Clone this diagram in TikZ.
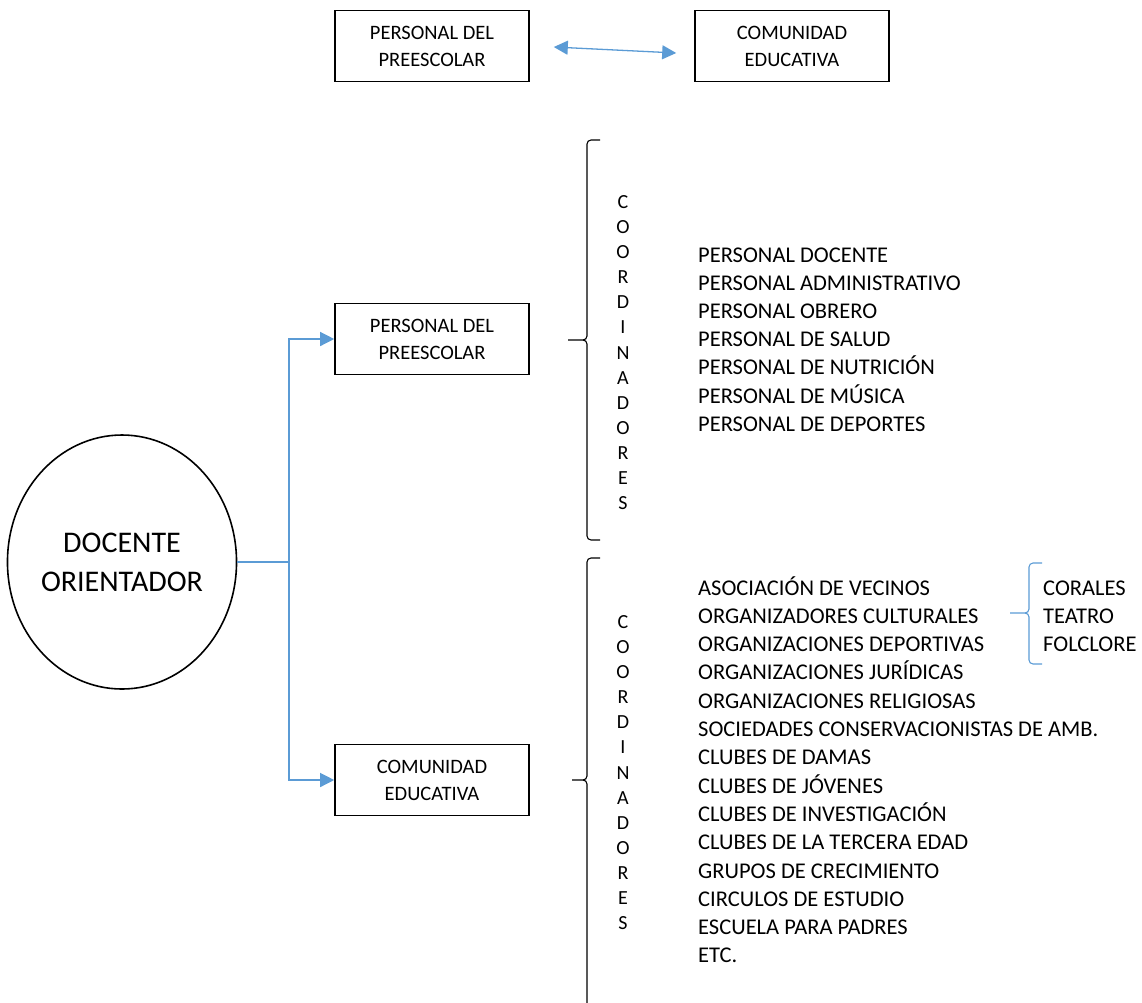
\documentclass[tikz,border=0pt]{standalone}
\usepackage{fontspec}
\setmainfont{Carlito}
\usetikzlibrary{arrows.meta,shapes.geometric,calc}
\definecolor{connc}{RGB}{91,155,213}
\begin{document}
\begin{tikzpicture}[x=1pt,y=-1pt,
  box/.style={draw,line width=1.6pt,minimum width=194pt,minimum height=71pt,align=center,inner sep=0pt,font=\fontsize{20.5}{27}\selectfont},
  conn/.style={draw=connc,line width=1.3pt},
  tipc/.style={-{Triangle[length=14pt,width=14pt]}},
  brk/.style={draw,line width=1.1pt},
  item/.style={anchor=base west,inner sep=0pt,font=\fontsize{22.5}{27}\selectfont},
  vlet/.style={anchor=center,inner sep=0pt,font=\fontsize{20}{24}\selectfont}]
\useasboundingbox (0,0) rectangle (1142,1002);

% top boxes
\node[box] (tp) at (432,46) {PERSONAL DEL\\PREESCOLAR};
\node[box] (tc) at (792,46) {COMUNIDAD\\EDUCATIVA};
\draw[conn,{Triangle[length=14pt,width=14pt]}-{Triangle[length=14pt,width=14pt]}]
  ($(tp.east)+(24,1)$) -- ($(tc.west)+(-18,7)$);

% main ellipse
\node[draw,ellipse,line width=1.6pt,minimum width=226pt,minimum height=254pt,inner sep=0pt,align=center,
  font=\fontsize{30}{39}\selectfont] (doc) at (122,562) {DOCENTE\\ORIENTADOR};

% middle boxes
\node[box] (mp) at (432,339) {PERSONAL DEL\\PREESCOLAR};
\node[box] (mc) at (432,780) {COMUNIDAD\\EDUCATIVA};

% connectors
\coordinate (j) at (289,562);
\draw[conn] (doc.east) -- (j);
\draw[conn,tipc] (j) |- (mp.west);
\draw[conn,tipc] (j) |- (mc.west);

% bracket 1
\draw[brk] (600,140) -- (591,140) to[out=180,in=90] (587,144) -- (587,336)
  to[out=-90,in=0] (583,340) -- (568,340);
\draw[brk] (583,340) to[out=0,in=90] (587,344) -- (587,536) to[out=-90,in=180] (591,540) -- (600,540);

% bracket 2
\draw[brk] (600,558) -- (591,558) to[out=180,in=90] (587,562) -- (587,776)
  to[out=-90,in=0] (583,780) -- (572,780);
\draw[brk] (583,780) to[out=0,in=90] (587,784) -- (587,1010);

% COORDINADORES vertical
\foreach \l [count=\i] in {C,O,O,R,D,I,N,A,D,O,R,E,S}{
  \node[vlet] (ca\i) at (623,{202+25.1*(\i-1)}) {\l};
  \node[vlet] (cb\i) at (623,{622+25.1*(\i-1)}) {\l};
}

% personal list
\foreach \t [count=\i] in {PERSONAL DOCENTE,PERSONAL ADMINISTRATIVO,PERSONAL OBRERO,PERSONAL DE SALUD,PERSONAL DE NUTRICIÓN,PERSONAL DE MÚSICA,PERSONAL DE DEPORTES}{
  \node[item] (pl\i) at (698,{262+28.2*(\i-1)}) {\t};
}

% community list
\foreach \t [count=\i] in {ASOCIACIÓN DE VECINOS,ORGANIZADORES CULTURALES,ORGANIZACIONES DEPORTIVAS,ORGANIZACIONES JURÍDICAS,ORGANIZACIONES RELIGIOSAS,SOCIEDADES CONSERVACIONISTAS DE AMB.,CLUBES DE DAMAS,CLUBES DE JÓVENES,CLUBES DE INVESTIGACIÓN,CLUBES DE LA TERCERA EDAD,GRUPOS DE CRECIMIENTO,CIRCULOS DE ESTUDIO,ESCUELA PARA PADRES,ETC.}{
  \node[item] (cl\i) at (698,{595+28.3*(\i-1)}) {\t};
}

% small blue brace
\draw[conn,line width=1.1pt] (1042,563) -- (1033,563) to[out=180,in=90] (1029,567) -- (1029,609)
  to[out=-90,in=0] (1025,613) -- (1010,613);
\draw[conn,line width=1.1pt] (1025,613) to[out=0,in=90] (1029,617) -- (1029,660) to[out=-90,in=180] (1033,664) -- (1042,664);

\node[item] (s1) at (1043,595) {CORALES};
\node[item] (s2) at (1043,623) {TEATRO};
\node[item] (s3) at (1043,651) {FOLCLORE};
\end{tikzpicture}
\end{document}
